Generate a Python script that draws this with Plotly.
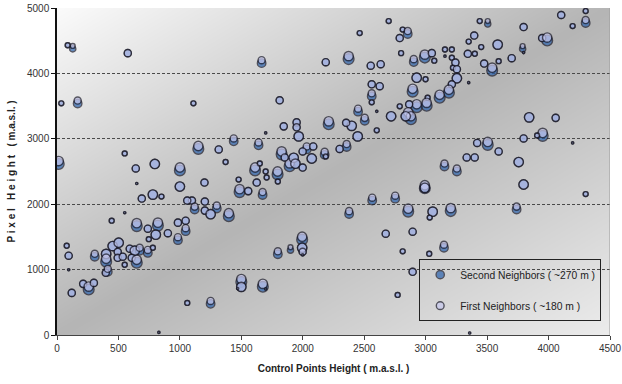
import base64, struct, zlib
import numpy as np
import plotly.graph_objects as go

# ---------------- data ----------------
control_height = [87,128,576,35,168,14,551,641,796,1000,649,1000,79,95,95,120,213,258,300,307,
    397,400,400,413,445,453,502,494,494,535,551,551,592,633,608,649,673,690,780,850,
    649,739,747,739,780,821,804,902,984,1047,1047,984,1060,829,1110,1150,1316,1438,1372,1640,
    1665,1698,1612,1650,1478,1486,1556,1673,1625,1698,1706,1812,1845,1950,1950,1967,1828,1795,1797,1893,
    1926,1940,1999,2032,2085,2073,1999,1853,2178,2187,2300,2357,2211,2187,1200,1203,1098,1060,1120,1203,
    1250,1300,1398,1250,1500,1500,1470,1675,1698,1797,1900,1995,1995,1999,1999,2463,2699,2789,2813,2854,
    2800,2373,2553,2634,2903,2993,3050,3070,3157,3213,3157,3213,3242,3222,3254,3254,3213,3189,3114,3016,
    2999,2927,2894,3008,2927,2866,2789,2858,2880,2838,2719,2561,2626,2561,2561,2602,2504,2450,2398,2353,
    2447,2602,3350,3395,3440,3505,3350,3452,3343,3400,3586,3476,3541,3594,3700,3789,3797,3797,3948,3989,
    4103,4196,4302,4302,3842,4058,3952,3907,3797,4196,3505,3419,3594,3757,3797,3334,3399,3153,3254,2993,
    2993,2565,2752,4302,2377,2858,3057,3033,3204,3740,2675,2894,2813,3029,3149,2894,2772,3358]

first_height = [4430,4420,4310,3543,3585,2660,2776,2546,2615,2561,2316,2270,1365,1212,997,644,782,740,797,1242,
    951,1240,1166,1012,1748,1360,1411,1273,1181,1197,1074,1870,1320,1290,1181,1150,1334,2086,2147,2117,
    1710,1626,1465,1300,1334,1718,1534,1556,1718,1748,1633,1495,491,40,3543,2890,2837,3006,2645,2945,
    4202,3090,2561,2622,2377,2230,2200,2185,2331,2500,2408,3589,3190,3251,3175,3037,2807,2500,2347,2625,
    2710,2620,2561,2883,2883,2699,2807,2715,2800,2730,2845,2920,3267,4172,2331,2040,2055,2055,1963,1902,
    1848,1978,1862,521,855,736,710,782,705,1280,1342,1503,1334,1273,1225,4617,4800,4540,4670,4648,
    4310,4264,4118,4141,4218,4287,4310,4195,4365,4365,4264,4240,4165,4088,4064,3926,3834,3750,3673,3628,
    3911,3934,3765,3550,3528,3528,3497,3405,3344,3344,3344,3834,3804,3696,3558,3420,3320,3460,3198,3244,
    3037,3129,3858,4578,4800,4800,4486,4402,4300,4300,4440,4150,4088,4187,4233,4417,4318,4708,4540,4548,
    4893,4724,4954,4816,3328,3320,3090,3052,3006,2937,2952,2937,2807,2645,2301,2715,2715,2622,2545,2290,
    2250,2100,2130,2155,1894,1932,1886,1795,1940,1963,1549,1580,1280,1242,1380,966,613,30]

first_size = [5.5,5.5,8,5.5,8,10.5,5.5,8,10.5,10.5,2.5,10.5,5.5,8,2.5,8,8,10.5,8,8,
    8,10.5,10.5,8,5.5,10.5,10.5,8,8,8,5.5,2.5,8,10.5,8,10.5,8,8,10.5,5.5,
    10.5,8,5.5,8,5.5,10.5,10.5,8,8,8,8,8,5.5,2.5,5.5,10.5,8,8,5.5,8,
    8,2.5,10.5,5.5,5.5,10.5,8,8,8,5.5,5.5,8,8,8,8,10.5,10.5,10.5,5.5,10.5,
    10.5,10.5,8,8,8,10.5,8,8,8,5.5,8,8,10.5,8,8,8,8,8,8,8,
    10.5,8,10.5,8,10.5,10.5,2.5,10.5,2.5,8,5.5,10.5,10.5,8,2.5,5.5,5.5,8,5.5,8,
    5.5,10.5,8,8,8,10.5,8,5.5,5.5,5.5,2.5,5.5,8,5.5,8,10.5,8,10.5,10.5,5.5,
    5.5,10.5,10.5,10.5,10.5,8,5.5,10.5,10.5,10.5,10.5,8,8,8,5.5,2.5,8,8,10.5,8,
    10.5,5.5,2.5,8,5.5,5.5,5.5,5.5,8,5.5,10.5,8,10.5,5.5,8,5.5,2.5,8,8,10.5,
    8,5.5,5.5,8,10.5,8,10.5,5.5,8,2.5,10.5,8,8,10.5,10.5,8,8,8,8,10.5,
    10.5,8,8,5.5,8,10.5,10.5,5.5,10.5,8,8,8,5.5,5.5,8,8,5.5,2.5]

second_height = [4430,4375,4310,3543,3540,2615,2776,2546,2615,2516,2316,2270,1365,1212,997,644,782,695,797,1197,
    951,1240,1121,967,1748,1360,1411,1273,1181,1197,1074,1870,1320,1290,1181,1105,1289,2086,2147,2117,
    1665,1626,1465,1255,1334,1673,1534,1556,1718,1748,1588,1450,491,40,3543,2845,2837,2961,2645,2900,
    4157,3090,2516,2622,2377,2185,2200,2140,2331,2500,2408,3589,3190,3251,3175,3037,2762,2455,2347,2580,
    2710,2620,2561,2838,2883,2699,2807,2715,2755,2730,2845,2875,3222,4172,2331,2040,2055,2055,1918,1902,
    1848,1933,1817,476,810,736,710,737,705,1235,1297,1458,1334,1273,1225,4617,4800,4540,4670,4603,
    4310,4219,4118,4141,4173,4242,4310,4195,4365,4365,4264,4240,4165,4088,4064,3926,3834,3705,3628,3628,
    3911,3934,3720,3505,3483,3528,3497,3360,3299,3344,3344,3834,3804,3651,3558,3420,3275,3415,3198,3244,
    3037,3129,3858,4578,4800,4755,4486,4402,4300,4300,4440,4150,4043,4187,4233,4372,4318,4708,4540,4503,
    4893,4724,4954,4771,3328,3320,3045,3052,3006,2937,2907,2937,2807,2645,2301,2715,2715,2577,2500,2245,
    2250,2055,2085,2155,1849,1887,1886,1795,1895,1918,1549,1580,1280,1242,1335,966,613,30]

second_size = [5.5,7,8,5.5,9.5,12,5.5,8,10.5,12,2.5,10.5,5.5,8,2.5,8,8,12,8,9.5,
    8,10.5,12,9.5,5.5,10.5,10.5,8,8,8,5.5,2.5,8,10.5,8,12,9.5,8,10.5,5.5,
    12,8,5.5,9.5,5.5,12,10.5,8,8,8,9.5,9.5,5.5,2.5,5.5,12,8,9.5,5.5,9.5,
    9.5,2.5,12,5.5,5.5,12,8,9.5,8,5.5,5.5,8,8,8,8,10.5,12,12,5.5,12,
    10.5,10.5,8,9.5,8,10.5,8,8,9.5,5.5,8,9.5,12,8,8,8,8,8,9.5,8,
    10.5,9.5,12,9.5,12,10.5,2.5,12,2.5,9.5,7,12,10.5,8,2.5,5.5,5.5,8,5.5,9.5,
    5.5,12,8,8,9.5,12,8,5.5,5.5,5.5,2.5,5.5,8,5.5,8,10.5,8,12,12,5.5,
    5.5,10.5,12,12,12,8,5.5,12,12,10.5,10.5,8,8,9.5,5.5,2.5,9.5,9.5,10.5,8,
    10.5,5.5,2.5,8,5.5,7,5.5,5.5,8,5.5,10.5,8,12,5.5,8,7,2.5,8,8,12,
    8,5.5,5.5,9.5,10.5,8,12,5.5,8,2.5,12,8,8,10.5,10.5,8,8,9.5,9.5,12,
    10.5,9.5,9.5,5.5,9.5,12,10.5,5.5,12,9.5,8,8,5.5,5.5,9.5,8,5.5,2.5]

x_ticks = [0, 500, 1000, 1500, 2000, 2500, 3000, 3500, 4000, 4500]
y_ticks = [0, 1000, 2000, 3000, 4000, 5000]

# ---------------- gradient background image ----------------
W, H = 553, 327
u = np.linspace(0, 1, W)[None, :]
v = np.linspace(0, 1, H)[:, None]
t = (u + v) / 2.0
g = np.where(t < 0.5, 251 + (181 - 251) * (t / 0.5), 181 + (236 - 181) * ((t - 0.5) / 0.5))
g = np.clip(g, 0, 255).astype(np.uint8)
rgb = np.repeat(g[:, :, None], 3, axis=2)
raw = b"".join(b"\x00" + rgb[r].tobytes() for r in range(H))

def _chunk(tag, data):
    c = struct.pack(">I", len(data)) + tag + data
    return c + struct.pack(">I", zlib.crc32(tag + data) & 0xFFFFFFFF)

png = (b"\x89PNG\r\n\x1a\n" + _chunk(b"IHDR", struct.pack(">IIBBBBB", W, H, 8, 2, 0, 0, 0))
       + _chunk(b"IDAT", zlib.compress(raw, 9)) + _chunk(b"IEND", b""))
bg_uri = "data:image/png;base64," + base64.b64encode(png).decode()

# ---------------- figure ----------------
edge = "#1b1b2a"
fig = go.Figure()
fig.add_trace(go.Scatter(
    x=control_height, y=second_height, mode="markers",
    name="Second Neighbors ( ~270 m )", legendgroup="a",
    marker=dict(size=second_size, sizemode="diameter", sizeref=1.12,
                color="#2a62ad", line=dict(color=edge, width=1.4)),
))
fig.add_trace(go.Scatter(
    x=control_height, y=first_height, mode="markers",
    name="First Neighbors ( ~180 m )", legendgroup="b",
    marker=dict(size=first_size, sizemode="diameter", sizeref=1.12,
                color="#c7c9ef", line=dict(color=edge, width=1.4)),
))

fig.add_layout_image(dict(source=bg_uri, xref="x", yref="y", x=0, y=5000, sizex=4500, sizey=5000,
                          sizing="stretch", layer="below"))
fig.add_shape(type="line", xref="x", yref="y", x0=4500, x1=4500, y0=0, y1=5000,
              line=dict(color="#9a9a9a", width=1))

font_family = "Liberation Sans, Arial, sans-serif"
fig.update_layout(
    width=622, height=384,
    margin=dict(l=57, r=12, t=8, b=49),
    paper_bgcolor="white", plot_bgcolor="white",
    font=dict(family=font_family, size=10, color="#222"),
    showlegend=True,
    legend=dict(x=0.655, y=0.232, xanchor="left", yanchor="top",
                bgcolor="rgba(0,0,0,0)", bordercolor="#222", borderwidth=1,
                font=dict(size=10.3, color="#222"), tracegroupgap=12),
    xaxis=dict(range=[0, 4500], tickvals=x_ticks, ticktext=[str(v) for v in x_ticks],
               showgrid=False, zeroline=False, showline=True, linecolor="#444", linewidth=1,
               ticks="outside", ticklen=4, tickcolor="#444", automargin=False,
               tickfont=dict(size=10, color="#333"),
               title=dict(text="<b>Control Points Height ( m.a.s.l. )</b>", font=dict(size=10, color="#222"),
                          standoff=11)),
    yaxis=dict(range=[0, 5000], tickvals=y_ticks, ticktext=[str(v) for v in y_ticks],
               showgrid=True, gridcolor="#4a4a4a", griddash="3px,2px", gridwidth=1,
               zeroline=False, showline=True, linecolor="#111", linewidth=1.5,
               ticks="outside", ticklen=4, tickcolor="#111", automargin=False,
               tickfont=dict(size=10, color="#333"),
               title=dict(text="<b>P i x e l   H e i g h t   ( m.a.s.l. )</b>", font=dict(size=10, color="#222"),
                          standoff=10)),
)

fig.write_html("out.html", config={"displayModeBar": False},
               post_script="document.body.style.margin='0px';")
